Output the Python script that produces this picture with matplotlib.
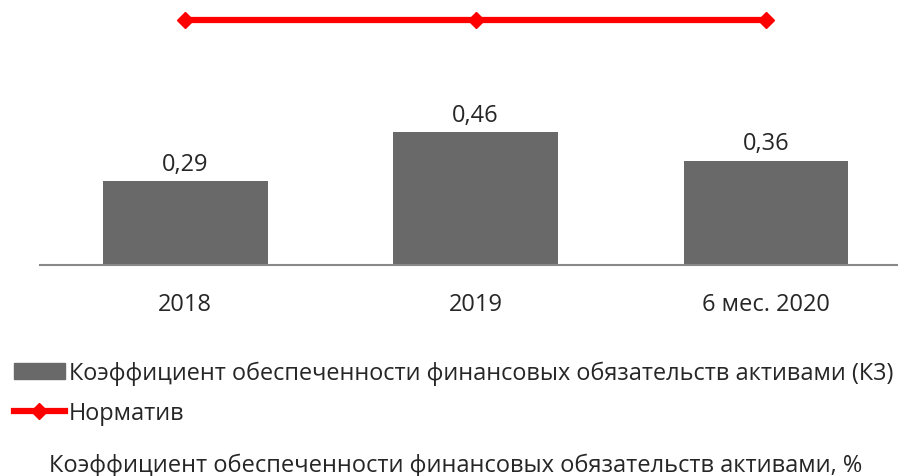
import numpy as np
import matplotlib.pyplot as plt
from matplotlib.lines import Line2D
from matplotlib.patches import Patch

plt.rcParams['font.family'] = ['Open Sans', 'DejaVu Sans']

periods = ['2018', '2019', '6 мес. 2020']
k3_values = [0.29, 0.46, 0.36]
norm_values = [0.85, 0.85, 0.85]
value_labels = ['0,29', '0,46', '0,36']

bar_name = 'Коэффициент обеспеченности финансовых обязательств активами (К3)'
line_name = 'Норматив'
title = 'Коэффициент обеспеченности финансовых обязательств активами, %'

grey = '#696969'
red = '#ff0000'
txt = '#262626'
fs = 17

fig = plt.figure(figsize=(8.98, 4.77), dpi=100)
ax = fig.add_axes([40/898, 1-265.6/477, 858/898, 265.6/477])

x = np.arange(len(periods))
ax.bar(x, k3_values, width=0.567, color=grey)
ax.plot(x, norm_values, color=red, lw=4.5, marker='D', ms=8, clip_on=False)

for xi, v, lab in zip(x, k3_values, value_labels):
    ax.annotate(lab, (xi, v), xytext=(0, 4), textcoords='offset points',
                ha='center', va='bottom', fontsize=fs, color=txt)

ax.set_xlim(-0.5, 2.454)
ax.set_ylim(0, 0.922)
ax.set_xticks(x)
ax.set_xticklabels(periods, fontsize=fs, color=txt)
ax.tick_params(axis='x', length=0, pad=20)
ax.set_yticks([])
for s in ['top', 'right', 'left']:
    ax.spines[s].set_visible(False)
ax.spines['bottom'].set_color('#888888')
ax.spines['bottom'].set_linewidth(1.5)

handles = [Patch(color=grey),
           Line2D([], [], color=red, lw=4.5, marker='D', ms=8)]
fig.legend(handles, [bar_name, line_name], loc='upper left',
           bbox_to_anchor=(7/898, 1-355/477), frameon=False, fontsize=16.9,
           handlelength=2.15, handletextpad=0.2, labelspacing=0.66,
           borderpad=0.3, borderaxespad=0.0, labelcolor=txt)

fig.text(456/898, 1-466/477, title, ha='center', va='center',
         fontsize=fs, color=txt)

fig.savefig('out.png', dpi=100)
